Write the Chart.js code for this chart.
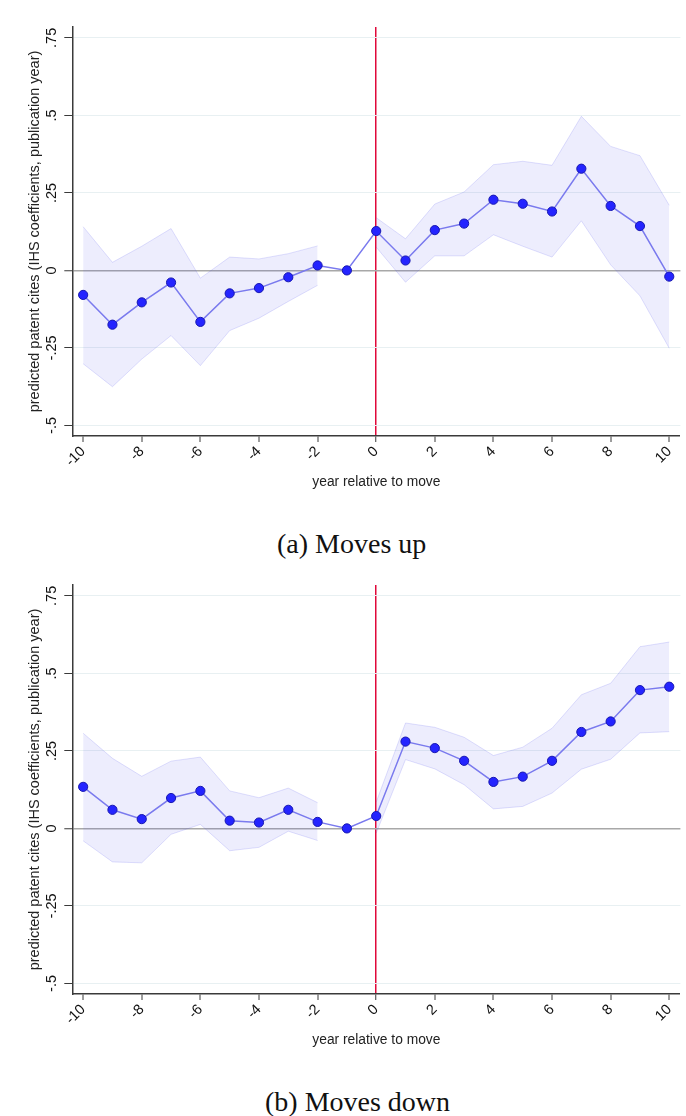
<!DOCTYPE html>
<html>
<head>
<meta charset="utf-8">
<script src="https://cdn.jsdelivr.net/npm/chart.js@4"></script>
<style>
  html, body { margin: 0; padding: 0; background: #fff; }
  body { width: 686px; height: 1116px; position: relative; overflow: hidden; }
  .panel { position: absolute; left: 0; width: 686px; height: 500px; }
  .caption {
    position: absolute; white-space: nowrap; line-height: normal;
    font-family: "Liberation Serif", "Times New Roman", serif; font-size: 28px; color: #111;
  }
</style>
</head>
<body>
<div class="panel" style="top:0px"><canvas id="up" width="686" height="500"></canvas></div>
<div class="caption" style="top:528px; left:277px">(a) Moves up</div>
<div class="panel" style="top:558px"><canvas id="down" width="686" height="500"></canvas></div>
<div class="caption" style="top:1086px; left:265px">(b) Moves down</div>
<script>
// event time, years relative to the move (-1 is the omitted reference year)
const years = [-10, -9, -8, -7, -6, -5, -4, -3, -2, -1, 0, 1, 2, 3, 4, 5, 6, 7, 8, 9, 10];

// (a) moves up: point estimates and 95% confidence bounds
const upMean = [-0.079, -0.175, -0.103, -0.039, -0.166, -0.074, -0.057, -0.022, 0.016, 0, 0.127,
                0.032, 0.130, 0.151, 0.228, 0.215, 0.190, 0.328, 0.208, 0.143, -0.020];
const upHi   = [0.141, 0.026, 0.078, 0.135, -0.025, 0.043, 0.037, 0.054, 0.079, null, 0.170,
                0.102, 0.214, 0.253, 0.341, 0.352, 0.339, 0.497, 0.400, 0.370, 0.210];
const upLo   = [-0.301, -0.375, -0.286, -0.210, -0.307, -0.194, -0.154, -0.100, -0.048, null, 0.075,
                -0.038, 0.047, 0.047, 0.115, 0.078, 0.043, 0.160, 0.018, -0.082, -0.251];

// (b) moves down
const downMean = [0.134, 0.060, 0.030, 0.098, 0.121, 0.025, 0.019, 0.060, 0.021, 0, 0.040,
                  0.280, 0.259, 0.218, 0.150, 0.167, 0.218, 0.311, 0.345, 0.446, 0.457];
const downHi   = [0.307, 0.226, 0.168, 0.217, 0.230, 0.121, 0.099, 0.130, 0.083, null, 0.085,
                  0.340, 0.326, 0.294, 0.235, 0.262, 0.323, 0.431, 0.468, 0.586, 0.601];
const downLo   = [-0.040, -0.108, -0.111, -0.019, 0.013, -0.072, -0.061, -0.009, -0.039, null, -0.015,
                  0.222, 0.192, 0.141, 0.063, 0.071, 0.114, 0.191, 0.223, 0.308, 0.312];

// axis ticks
const yTickValues = [-0.5, -0.25, 0, 0.25, 0.5, 0.75];
const yTickLabels = ['-.5', '-.25', '0', '.25', '.5', '.75'];
const xTickValues = [-10, -8, -6, -4, -2, 0, 2, 4, 6, 8, 10];
const xTickLabels = ['-10', '-8', '-6', '-4', '-2', '0', '2', '4', '6', '8', '10'];

const yTitle = 'predicted patent cites (IHS coefficients, publication year)';
const xTitle = 'year relative to move';

// split a series into contiguous runs of non-missing values
function runs(vals) {
  const out = [];
  let cur = [];
  vals.forEach((v, i) => {
    if (v === null) { if (cur.length) out.push(cur); cur = []; }
    else cur.push({ x: years[i], y: v });
  });
  if (cur.length) out.push(cur);
  return out;
}

const PLOT_H = 409;
const TOP_PAD = 27;
const LEFT_PAD = 26;
const CANVAS_H = 500;
const BOTTOM_PAD = 10;
const SANS = '"Liberation Sans", Arial, sans-serif';

function makeChart(id, mean, lo, hi) {
  const datasets = [{
    data: mean.map((v, i) => ({ x: years[i], y: v })),
    borderColor: '#7a7aee',
    borderWidth: 1.5,
    pointRadius: 4.6,
    pointBackgroundColor: '#2424ff',
    pointBorderColor: '#1717b0',
    pointBorderWidth: 1,
    fill: false,
    tension: 0
  }];
  const hiRuns = runs(hi), loRuns = runs(lo);
  hiRuns.forEach((seg, k) => {
    datasets.push({
      data: seg, pointRadius: 0, borderWidth: 1,
      borderColor: 'rgba(70,70,235,0.16)',
      backgroundColor: 'rgba(60,60,235,0.095)',
      fill: '+1', tension: 0
    });
    datasets.push({
      data: loRuns[k], pointRadius: 0, borderWidth: 1,
      borderColor: 'rgba(70,70,235,0.16)',
      fill: false, tension: 0
    });
  });

  return new Chart(document.getElementById(id), {
    type: 'line',
    data: { datasets },
    options: {
      responsive: false,
      animation: false,
      devicePixelRatio: 1,
      events: [],
      layout: { padding: { top: TOP_PAD, right: 5, left: LEFT_PAD, bottom: BOTTOM_PAD } },
      plugins: { legend: { display: false }, tooltip: { enabled: false } },
      scales: {
        x: {
          type: 'linear', min: -10.37, max: 10.38,
          afterBuildTicks: (s) => { s.ticks = xTickValues.map(v => ({ value: v })); },
          afterFit: (s) => { s.height = CANVAS_H - TOP_PAD - PLOT_H - BOTTOM_PAD; },
          border: { display: true, color: '#3a3a3a', width: 1.5 },
          grid: {
            drawOnChartArea: true, drawTicks: true, tickLength: 6,
            color: (c) => (c.tick && c.tick.value === 0) ? '#e0083a' : 'rgba(0,0,0,0)',
            lineWidth: (c) => (c.tick && c.tick.value === 0) ? 1.5 : 0,
            tickColor: '#3a3a3a', tickWidth: 1
          },
          ticks: {
            autoSkip: false, minRotation: 45, maxRotation: 45, padding: 1,
            color: '#111',
            font: { family: SANS, size: 14.5 },
            callback: (v) => { const i = xTickValues.indexOf(v); return i >= 0 ? xTickLabels[i] : ''; }
          },
          title: {
            display: true, text: xTitle, color: '#222', padding: { top: 0, bottom: 0 },
            font: { family: SANS, size: 13.8 }
          }
        },
        y: {
          type: 'linear', min: -0.534, max: 0.785,
          afterBuildTicks: (s) => { s.ticks = yTickValues.map(v => ({ value: v })); },
          afterFit: (s) => { s.width = 72.3 - LEFT_PAD; },
          border: { display: true, color: '#3a3a3a', width: 1.5 },
          grid: {
            drawTicks: true, tickLength: 8,
            color: (c) => (c.tick && c.tick.value === 0) ? '#a8a8a8' : '#e8f0f2',
            lineWidth: (c) => (c.tick && c.tick.value === 0) ? 1.5 : 1,
            tickColor: '#3a3a3a', tickWidth: 1
          },
          ticks: {
            autoSkip: false, minRotation: 90, maxRotation: 90, padding: 0,
            crossAlign: 'center', color: '#111',
            font: { family: SANS, size: 14.5 },
            callback: (v) => { const i = yTickValues.indexOf(v); return i >= 0 ? yTickLabels[i] : ''; }
          },
          title: {
            display: true, text: yTitle, color: '#222', padding: { top: 0, bottom: 0 },
            font: { family: SANS, size: 14.5 }
          }
        }
      }
    }
  });
}

makeChart('up', upMean, upLo, upHi);
makeChart('down', downMean, downLo, downHi);
</script>
</body>
</html>
